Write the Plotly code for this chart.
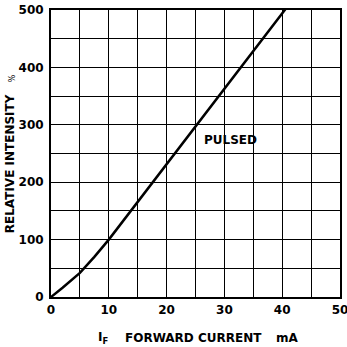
import plotly.graph_objects as go

# pulsed forward current vs relative intensity
current_ma = [0, 2, 5, 7.5, 10, 15, 20, 25, 30, 35, 40, 40.6]
intensity = [0, 16, 42, 70, 100, 166, 232, 298, 364, 430, 494, 502]

x_ticks = [0, 10, 20, 30, 40, 50]
y_ticks = [0, 100, 200, 300, 400, 500]

FONT = "DejaVu Sans"

fig = go.Figure()
fig.add_scatter(
    x=current_ma,
    y=intensity,
    mode="lines",
    line=dict(color="black", width=2.5),
    showlegend=False,
)

axis_style = dict(
    showgrid=True,
    gridcolor="black",
    gridwidth=1,
    showline=True,
    linecolor="black",
    linewidth=2,
    mirror=True,
    zeroline=False,
    ticks="",
    automargin=False,
    ticklabeloverflow="allow",
    tickfont=dict(family=FONT, size=12, color="black", weight="bold"),
)
fig.update_xaxes(
    range=[0, 50],
    tickvals=x_ticks,
    ticklabelstandoff=1,
    minor=dict(dtick=5, tick0=0, showgrid=True, gridcolor="black", gridwidth=1),
    **axis_style
)
fig.update_yaxes(
    range=[0, 500],
    tickvals=y_ticks,
    ticklabelstandoff=3,
    minor=dict(dtick=50, tick0=0, showgrid=True, gridcolor="black", gridwidth=1),
    **axis_style
)

bold = dict(family=FONT, size=12, color="black", weight="bold")
centred = dict(showarrow=False, xanchor="center", yanchor="middle")
fig.add_annotation(x=31, y=273, text="PULSED", font=bold, **centred)
fig.add_annotation(x=24.6, xref="x", y=-0.143, yref="paper", text="FORWARD CURRENT",
                   font=bold, **centred)
fig.add_annotation(x=41, xref="x", y=-0.143, yref="paper", text="mA",
                   font=bold, **centred)
fig.add_annotation(x=9, xref="x", y=-0.143, yref="paper", text="I<sub>F</sub>",
                   font=bold, **centred)
fig.add_annotation(x=-0.142, xref="paper", y=233, yref="y", text="RELATIVE INTENSITY",
                   textangle=-90, font=bold, **centred)
fig.add_annotation(x=-0.135, xref="paper", y=381, yref="y", text="%",
                   textangle=-90, font=dict(family=FONT, size=8, color="black"),
                   **centred)

fig.update_layout(
    width=347,
    height=347,
    margin=dict(l=51, r=7, t=10, b=50),
    plot_bgcolor="white",
    paper_bgcolor="white",
)

# drop the browser's default body margin so the figure sits at the page corner
fig.write_html("out.html", config={"displayModeBar": False},
               post_script="document.body.style.margin = '0';")
